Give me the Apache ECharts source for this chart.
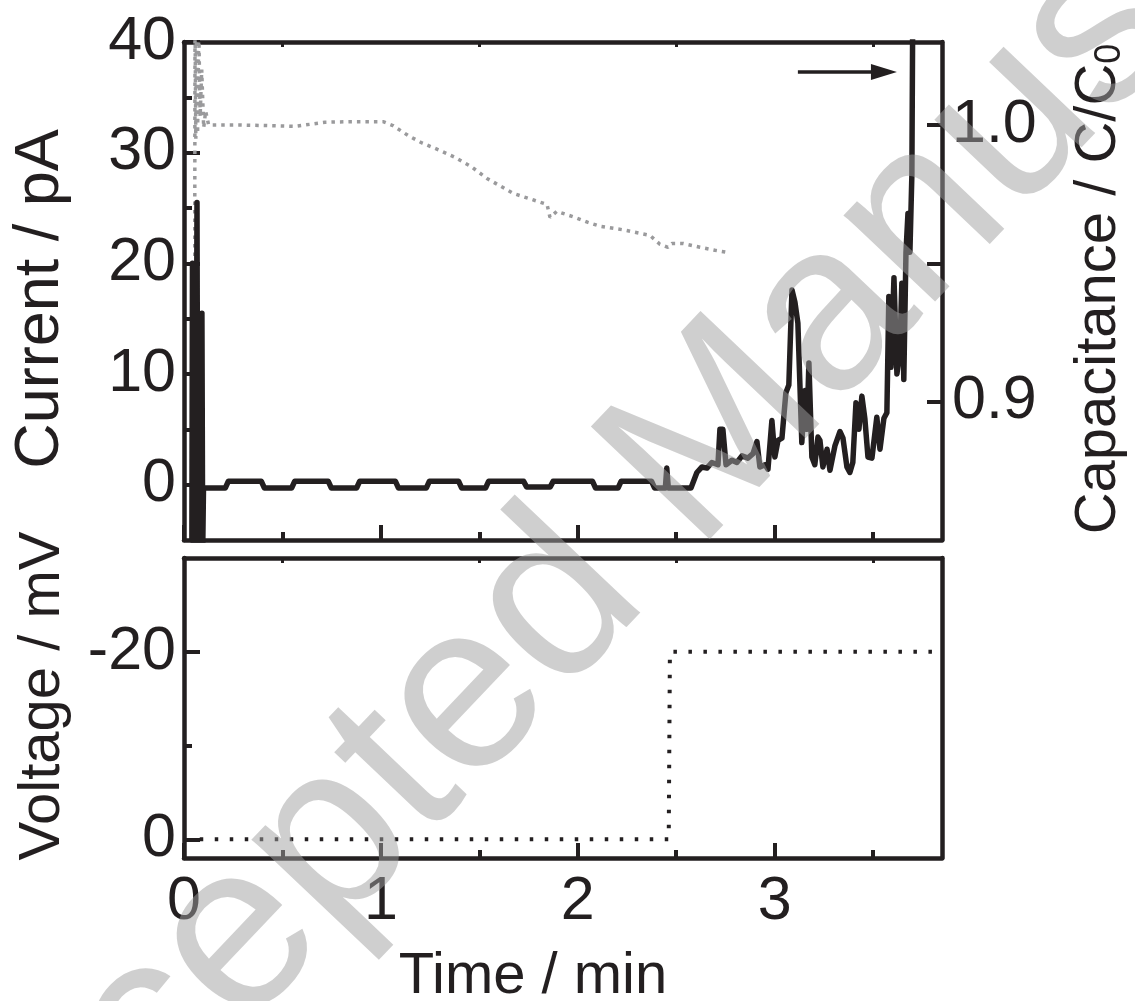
<!DOCTYPE html>
<html>
<head>
<meta charset="utf-8">
<script src="https://cdn.jsdelivr.net/npm/echarts@6/dist/echarts.min.js"></script>
<style>
html,body{margin:0;padding:0;background:#fff;}
#chart{width:1135px;height:1001px;}
</style>
</head>
<body>
<div id="chart"></div>
<script>
// ---- data (time in min) ----
const currentSeries = [
  [0.040,-5],[0.043,20],[0.047,-5.5],[0.051,9],[0.055,-5.5],[0.058,14],[0.061,-5.5],[0.066,25.5],[0.070,-5.5],[0.074,12],[0.078,-6],
  [0.082,10],[0.086,-6],[0.091,15.5],[0.095,-6],[0.099,-0.3],
  [0.210,-0.3],[0.225,0.3],[0.393,0.3],[0.408,-0.3],[0.547,-0.3],[0.562,0.3],[0.733,0.3],[0.748,-0.3],[0.877,-0.3],[0.892,0.3],
  [1.074,0.3],[1.089,-0.3],[1.231,-0.3],[1.246,0.3],[1.395,0.3],[1.410,-0.3],[1.532,-0.3],[1.547,0.3],[1.725,0.3],[1.740,-0.2],
  [1.860,-0.2],[1.875,0.3],[2.075,0.3],[2.090,-0.3],[2.205,-0.3],[2.220,0.3],[2.375,0.3],[2.390,-0.3],[2.445,-0.3],[2.452,1.5],
  [2.460,-0.3],[2.575,-0.3],[2.605,1.1],[2.631,1.6],[2.656,1.5],[2.681,2.0],[2.712,1.8],[2.722,5.0],[2.737,5.0],[2.753,1.8],
  [2.783,2.2],[2.808,2.0],[2.834,2.6],[2.864,2.4],[2.890,2.8],[2.910,3.9],[2.925,1.6],[2.951,1.8],[2.966,1.4],[2.986,5.8],
  [3.001,2.5],[3.017,4.0],[3.037,4.2],[3.057,8.3],[3.072,9.0],[3.088,17.6],[3.103,16.5],[3.118,14.6],[3.138,3.8],[3.154,8.5],
  [3.164,5.0],[3.174,11.0],[3.189,2.5],[3.204,1.8],[3.220,4.3],[3.230,4.0],[3.245,1.6],[3.266,3.2],[3.281,1.3],[3.306,3.5],
  [3.332,4.8],[3.347,4.2],[3.367,1.6],[3.382,1.1],[3.397,2.0],[3.413,7.4],[3.428,5.0],[3.443,8.0],[3.458,6.0],[3.474,2.5],
  [3.494,2.4],[3.519,6.1],[3.535,3.2],[3.555,6.0],[3.570,6.5],[3.580,17.0],[3.591,10.6],[3.606,18.7],[3.621,10.0],[3.636,12.0],
  [3.646,18.2],[3.656,9.5],[3.667,21.0],[3.677,24.5],[3.687,21.0],[3.697,28.0],[3.702,45.0]
];
const capacitanceSeries = [
  [0.054,0.925],[0.056,1.04],[0.060,0.995],[0.064,1.04],[0.069,0.997],[0.075,1.035],[0.082,1.003],[0.090,1.02],[0.100,0.999],
  [0.110,1.005],[0.125,1.0],[0.284,1.0],[0.411,0.9998],[0.564,0.9995],[0.716,1.001],[0.843,1.0012],[1.011,1.0012],[1.061,0.9998],
  [1.138,0.9962],[1.209,0.9935],[1.300,0.9908],[1.376,0.9883],[1.458,0.985],[1.539,0.9807],[1.671,0.9753],[1.783,0.9727],
  [1.844,0.9713],[1.859,0.9666],[1.894,0.9688],[1.986,0.9666],[2.052,0.9648],[2.113,0.9634],[2.240,0.962],[2.367,0.9601],
  [2.417,0.9569],[2.458,0.9558],[2.478,0.9572],[2.534,0.9572],[2.621,0.9558],[2.697,0.9547],[2.758,0.954]
];
const voltageSeries = [[0.08,0],[2.462,0],[2.468,-20],[3.80,-20],[3.84,-19.2]];

const timeTicks = [0,1,2,3];
const timeMinorTicks = [0.5,1.5,2.5,3.5];
const currentTicks = [0,10,20,30,40];
const currentMinorTicks = [5,15,25,35];
const capTicks = [0.9,0.95,1.0];
const capLabels = [0.9,1.0];
const voltageTicks = [-20,0];
const voltageMinorTicks = [-10];
const arrowFrom = [3.118,37.3];
const arrowTo = [3.555,37.3];

const INK = '#231f20';
const FONT = '"Liberation Sans", Arial, sans-serif';
const FS = 58;      // axis titles
const TFS = 61;     // tick labels

function frameAxis(extra) {
  return Object.assign({
    type:'value',
    axisLine:{show:true, onZero:false, lineStyle:{color:INK, width:4.5}},
    axisTick:{show:false},
    axisLabel:{show:false},
    splitLine:{show:false}
  }, extra);
}
function tickAxis(extra, values, len) {
  return Object.assign({
    type:'value',
    axisLine:{show:false, onZero:false},
    axisTick:{show:true, inside:true, length:len, lineStyle:{color:INK, width:4}, customValues: values},
    axisLabel:{show:false},
    splitLine:{show:false}
  }, extra);
}

const chart = echarts.init(document.getElementById('chart'), null, {renderer:'canvas'});
chart.setOption({
  animation:false,
  backgroundColor:'#fff',
  textStyle:{fontFamily:FONT, color:INK},
  grid:[
    {left:184, top:42, width:758, height:498, containLabel:false, outerBoundsMode:'none'},
    {left:184, top:558, width:758, height:300, containLabel:false, outerBoundsMode:'none'}
  ],
  xAxis:[
    Object.assign(frameAxis({gridIndex:0, position:'bottom', min:0, max:3.85}),
      {axisTick:{show:true, inside:true, length:15, lineStyle:{color:INK,width:4}, customValues:timeTicks}}),
    tickAxis({gridIndex:0, position:'bottom', min:0, max:3.85}, timeMinorTicks, 8),
    Object.assign(frameAxis({gridIndex:0, position:'top', min:0, max:3.85}),
      {axisTick:{show:true, inside:true, length:5, lineStyle:{color:INK,width:3}, customValues:timeMinorTicks}}),
    Object.assign(frameAxis({gridIndex:1, position:'bottom', min:0, max:3.85}), {
      axisTick:{show:true, inside:true, length:15, lineStyle:{color:INK,width:4}, customValues:timeTicks},
      axisLabel:{show:true, customValues:timeTicks, fontSize:TFS, fontFamily:FONT, color:INK, margin:14},
      name:'Time / min', nameLocation:'middle', nameGap:90,
      nameTextStyle:{fontSize:FS, fontFamily:FONT, color:INK, padding:[0,60,0,0]}
    }),
    tickAxis({gridIndex:1, position:'bottom', min:0, max:3.85}, timeMinorTicks, 8),
    Object.assign(frameAxis({gridIndex:1, position:'top', min:0, max:3.85}),
      {axisTick:{show:true, inside:true, length:5, lineStyle:{color:INK,width:3}, customValues:timeMinorTicks}})
  ],
  yAxis:[
    Object.assign(frameAxis({gridIndex:0, position:'left', min:-5, max:40}), {
      axisTick:{show:true, inside:true, length:16, lineStyle:{color:INK,width:4}, customValues:currentTicks},
      axisLabel:{show:true, customValues:currentTicks, fontSize:TFS, fontFamily:FONT, color:INK, margin:8},
      name:'Current / pA', nameLocation:'middle', nameGap:112,
      nameTextStyle:{fontSize:63, fontFamily:FONT, color:INK, padding:[0,16,0,0]}
    }),
    tickAxis({gridIndex:0, position:'left', min:-5, max:40}, currentMinorTicks, 8),
    Object.assign(frameAxis({gridIndex:0, position:'right', min:0.85, max:1.03}), {
      axisTick:{show:true, inside:true, length:15, lineStyle:{color:INK,width:4}, customValues:capTicks},
      axisLabel:{show:true, customValues:capLabels, fontSize:TFS, fontFamily:FONT, color:INK, margin:10,
        formatter:v => v.toFixed(1)},
      name:'Capacitance / C/C{s|0}', nameLocation:'middle', nameGap:128, nameRotate:90,
      nameTextStyle:{fontSize:FS, fontFamily:FONT, color:INK, padding:[0,0,0,4],
        rich:{s:{fontSize:36, fontFamily:FONT, color:INK, verticalAlign:'bottom', lineHeight:30}}}
    }),
    Object.assign(frameAxis({gridIndex:1, position:'left', min:-30, max:2, inverse:true}), {
      axisTick:{show:true, inside:true, length:16, lineStyle:{color:INK,width:4}, customValues:voltageTicks},
      axisLabel:{show:true, customValues:voltageTicks, fontSize:TFS, fontFamily:FONT, color:INK, margin:8},
      name:'Voltage / mV', nameLocation:'middle', nameGap:112,
      nameTextStyle:{fontSize:FS, fontFamily:FONT, color:INK, padding:[0,0,0,24]}
    }),
    tickAxis({gridIndex:1, position:'left', min:-30, max:2, inverse:true}, voltageMinorTicks, 8),
    frameAxis({gridIndex:1, position:'right', min:-30, max:2, inverse:true})
  ],
  series:[
    {
      name:'Capacitance', type:'line', xAxisIndex:0, yAxisIndex:2, data:capacitanceSeries,
      showSymbol:false, z:2,
      lineStyle:{color:'#9a9a9c', width:3.5, type:[3.5,5], cap:'butt'}
    },
    {
      name:'Current', type:'line', xAxisIndex:0, yAxisIndex:0, data:currentSeries,
      showSymbol:false, z:3,
      lineStyle:{color:INK, width:5.5, join:'round'},
      markLine:{
        silent:true, symbol:['none','triangle'], symbolSize:[16,26],
        lineStyle:{color:INK, width:3.5, type:'solid'},
        label:{show:false},
        data:[[{coord:arrowFrom},{coord:arrowTo}]]
      }
    },
    {
      name:'Voltage', type:'line', xAxisIndex:3, yAxisIndex:3, data:voltageSeries,
      showSymbol:false, z:2,
      lineStyle:{color:INK, width:4, type:[3.5,11.5], cap:'butt'}
    }
  ],
  graphic:[{
    type:'text', x:685, y:470, rotation:46.5*Math.PI/180, z:100, silent:true,
    style:{text:'Accepted Manuscript', font:'238px "Liberation Sans", Arial, sans-serif',
      fill:'rgba(160,160,160,0.5)', align:'center', verticalAlign:'middle'}
  }]
});
</script>
</body>
</html>
